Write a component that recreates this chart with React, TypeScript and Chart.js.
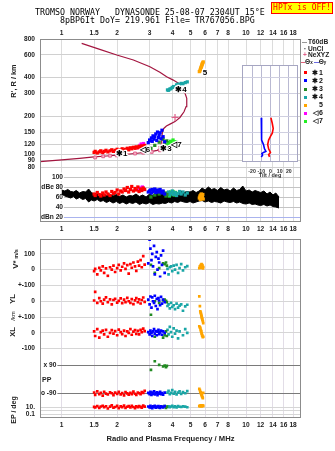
import React, { useEffect, useRef } from 'react';
import { Chart, registerables } from 'chart.js';

Chart.register(...registerables);

const FONT = "'Liberation Sans', Arial, sans-serif";
const MONO = "'DejaVu Sans Mono', 'Liberation Mono', monospace";

// ---------- axes ----------
const FREQ_MIN = 0.763;
const FREQ_MAX = 19.87;
const freqTicks = [1, 1.5, 2, 3, 4, 5, 6, 7, 8, 10, 12, 14, 16, 18];
const heightTicks = [80, 90, 100, 120, 150, 200, 300, 400, 600, 800];
const dbTicks = [20, 40, 60, 80, 100];
const dbTickLabels = ['dBn 20', '40', '60', 'dBe 80', '100'];
const vTicks = [100, 0];
const vTickLabels = ['100', '0'];
const ylTicks = [100, 0, -100];
const ylTickLabels = ['+-100', '0', '+-100'];
const xlTicks = [0, -100];
const xlTickLabels = ['0', '-100'];
const ppTicks = [90, -90];
const ppTickLabels = ['x 90', 'o -90'];
const epTicks = [10, 1, 0.1];
const epTickLabels = ['10.', '', '0.1'];
const tiltTicks = [-20, -10, 0, 10, 20];
const tiltHeightTicks = [100, 120, 150, 200, 300, 400];

// ---------- profile curve (plasma frequency MHz, height km) ----------
const curveF = [0.763, 1.0, 1.25, 1.5, 1.75, 2.0, 2.5, 3.0, 3.3, 3.45, 3.47, 3.49, 3.52, 3.58, 3.7, 3.87, 4.12, 4.38, 4.61, 4.73, 4.77, 4.77, 4.67, 4.48, 4.3, 4.03, 3.71, 3.41, 3.01, 2.45, 1.99, 1.61, 1.284];
const curveH = [88, 91, 93.5, 96, 97.5, 99, 102, 105, 108, 112, 122, 135, 150, 160, 167, 173, 181, 195, 216, 237, 259, 275, 301, 330, 361, 382, 406, 440, 486, 548, 600, 664, 740];
const pinkF = [1.52, 1.68, 1.83, 1.99, 2.21, 2.5, 2.77, 3.08, 3.41, 3.71];
const pinkH = [95, 97, 98, 98.6, 100.5, 102, 103.5, 105, 108, 111];
const neF = [4.12, 3.49];
const neH = [195, 115];

// ---------- clusters ----------
const redF = [1.5, 1.52, 1.56, 1.6, 1.63, 1.67, 1.7, 1.74, 1.78, 1.83, 1.87, 1.91, 1.95, 2.0, 2.04, 2.09, 2.13, 2.18, 2.22, 2.27, 2.31, 2.36, 2.4, 2.45, 2.5, 2.54, 2.59, 2.63, 2.68, 2.72, 2.77, 2.82];
const redH = [104, 106, 103, 105, 107, 104, 106, 108, 105, 107, 109, 106, 108, 110, 107, 109, 111, 108, 110, 112, 109, 113, 111, 114, 112, 115, 113, 116, 114, 117, 115, 118];
const redDB = [66, 63, 69, 65, 62, 68, 64, 70, 66, 63, 71, 67, 69, 74, 66, 72, 70, 76, 73, 79, 70, 75, 81, 72, 77, 74, 80, 71, 76, 73, 78, 75];
const redV = [-10, 5, -30, 12, -5, 20, -20, 8, -40, 15, 0, 25, -15, 10, 30, -5, 18, 40, 5, 28, -25, 35, 12, 45, 20, -8, 50, 25, 60, 15, 85, 32];
const redYL = [5, 60, -10, 20, 0, -15, 10, 25, -5, 12, -20, 8, 15, -8, 2, 18, -12, 10, -5, 22, 0, -10, 14, -18, 6, 20, -6, 12, -14, 8, 24, -4];
const redXL = [10, -20, 25, -30, 5, 15, -10, 20, -25, 0, 18, -5, 12, -15, 22, 5, -8, 15, -20, 10, 0, 25, -12, 8, 18, -6, 14, -10, 20, 5, 28, 12];
const redPP = [-85, -100, -78, -95, -88, -105, -80, -92, -98, -84, -90, -102, -86, -94, -80, -97, -89, -104, -83, -91, -99, -87, -95, -79, -93, -101, -85, -90, -96, -82, -88, -75];
const redEP = [12, 8, 20, 6, 15, 25, 9, 18, 4, 14, 30, 7, 11, 22, 5, 16, 10, 28, 6, 13, 19, 8, 24, 11, 5, 17, 9, 21, 12, 7, 26, 14];

const blueF = [2.95, 3.0, 3.03, 3.07, 3.1, 3.13, 3.17, 3.2, 3.24, 3.28, 3.31, 3.35, 3.38, 3.42, 3.46, 3.5, 3.55, 3.62];
const blueH = [124, 130, 128, 135, 127, 140, 132, 138, 145, 129, 150, 136, 142, 148, 133, 155, 138, 126];
const blueDB = [70, 72, 74, 68, 75, 71, 73, 76, 69, 72, 74, 70, 73, 75, 71, 68, 72, 66];
const blueV = [40, 190, 133, 60, 100, 20, 150, -30, 80, 110, 0, 70, 45, -45, 90, 30, 120, -20];
const blueYL = [10, -20, 30, -40, 25, 0, -10, 35, -30, 15, -50, 20, 5, -25, 28, -15, 10, -5];
const blueXL = [5, -10, 15, 0, -20, 10, 25, -5, 12, -15, 8, 20, -8, 3, 15, -12, 10, 0];
const bluePP = [-88, -95, -80, -100, -85, -92, -78, -97, -90, -84, -102, -87, -93, -81, -96, -89, -99, -86];
const blueEP = [15, 8, 22, 10, 5, 18, 12, 25, 7, 14, 9, 20, 11, 6, 16, 13, 8, 19];

const greenF = [3.05, 3.2, 3.38, 3.55, 3.62, 3.68, 3.72];
const greenH = [112, 118, 125, 132, 120, 115, 128];
const greenDB = [60, 64, 66, 70, 68, 62, 65];
const greenV = [30, -20, 10, 40, 35, 45, 25];
const greenYL = [-85, 0, -10, 5, 10, 2, -5];
const greenXL = [0, -25, 5, -30, -15, 10, -20];
const greenPP = [62, 118, 95, 84, 90, 80, 88];
const greenEP = [10, 15, 8, 12, 20, 6, 14];

const tealF = [3.75, 3.8, 3.86, 3.92, 3.98, 4.05, 4.12, 4.2, 4.28, 4.36, 4.45, 4.55, 4.68, 4.8];
const tealH = [320, 318, 325, 328, 335, 340, 338, 350, 355, 352, 360, 358, 365, 370];
const tealDB = [66, 70, 64, 68, 72, 65, 69, 63, 67, 71, 66, 70, 64, 68];
const tealV = [5, -30, 15, 20, -10, 25, 0, 30, -20, 10, 35, -5, 15, 22];
const tealYL = [-30, -20, -45, -10, -35, -25, -50, -15, -40, -28, -20, -60, -32, -22];
const tealXL = [20, -10, 40, 5, -25, 30, -5, 15, -35, 10, 60, -15, 25, 0];
const tealPP = [-85, -75, -95, -88, -70, -92, -80, -98, -86, -78, -94, -83, -90, -76];
const tealEP = [12, 18, 9, 15, 22, 10, 16, 8, 20, 13, 11, 17, 14, 9];

const orangeF = [5.58, 5.62, 5.65, 5.68, 5.7, 5.72, 5.74, 5.76, 5.78, 5.8, 5.83, 5.86];
const orangeH = [445, 450, 462, 470, 478, 485, 492, 500, 508, 515, 522, 530];
const orangeDB = [58, 62, 55, 64, 60, 66, 57, 63, 59, 61, 65, 56];
const orangeV = [10, 20, 15, 25, 30, 12, 35, 18, 22, 28, 8, 16];
const orangeYL = [31, -31, -64, -72, -79, -88, -95, -103, -110, -118, -126, -138];
const orangeXL = [44, 36, 31, 20, 14, 9, -2, -6, -16, -20, -28, -25];
const orangePP = [-62, -70, -80, -84, -91, -95, -101, -104, -112, -116, -121, -88];
const orangeEP = [20, 25, 18, 30, 22, 28, 19, 24, 26, 21, 27, 23];

const magF = [2.62, 2.66, 2.7, 2.74, 2.78];
const magH = [113, 118, 121, 116, 122];
const magDB = [74, 78, 76, 80, 77];

const limeF = [3.72, 3.78, 3.84, 3.9, 3.96, 4.02, 4.08, 4.14, 4.2];
const limeH = [119, 124, 121, 127, 123, 130, 122, 126, 125];
const limeDB = [65, 68, 62, 70, 66, 71, 64, 69, 67];

// ---------- amplitude trace (dB) ----------
const dbF = [1.0, 1.04, 1.08, 1.12, 1.16, 1.2, 1.25, 1.3, 1.35, 1.4, 1.45, 1.5, 1.56, 1.62, 1.68, 1.75, 1.82, 1.9, 1.98, 2.06, 2.15, 2.24, 2.33, 2.43, 2.53, 2.64, 2.75, 2.87, 3.0, 3.12, 3.25, 3.38, 3.52, 3.66, 3.8, 3.95, 4.1, 4.26, 4.43, 4.6, 4.78, 4.97, 5.16, 5.36, 5.57, 5.78, 6.0, 6.25, 6.5, 6.75, 7.0, 7.3, 7.6, 7.9, 8.2, 8.55, 8.9, 9.25, 9.6, 10.0, 10.4, 10.8, 11.2, 11.6, 12.0, 12.5, 13.0, 13.5, 14.0, 14.5, 15.1];
const dbHigh = [74, 72, 75, 71, 70, 73, 68, 71, 70, 76, 69, 66, 68, 64, 67, 63, 66, 62, 65, 61, 64, 60, 63, 62, 66, 61, 64, 60, 66, 63, 68, 70, 72, 69, 71, 68, 70, 67, 72, 69, 71, 70, 73, 69, 72, 78, 74, 80, 75, 77, 73, 79, 74, 76, 72, 78, 73, 75, 82, 72, 74, 70, 73, 71, 69, 72, 66, 70, 64, 68, 60];
const dbLow = [66, 62, 60, 58, 61, 56, 59, 55, 57, 50, 54, 52, 55, 51, 53, 49, 52, 48, 51, 47, 50, 46, 49, 47, 50, 45, 48, 46, 49, 45, 47, 46, 48, 47, 50, 48, 51, 49, 52, 50, 49, 51, 48, 50, 52, 53, 50, 52, 49, 51, 50, 48, 52, 50, 49, 51, 48, 50, 47, 46, 48, 45, 46, 44, 43, 45, 42, 44, 41, 40, 38];

// ---------- tilt inset ----------
const tiltBlueT = [-10, -10, -9.3, -7.6, -6.5, -5, -7.6, -9.3, -8.6, -10];
const tiltBlueH = [194, 142, 130, 120, 111, 106, 104, 102, 99, 96];
const tiltRedT = [0.5, 2, 3, 2, 0, -2, -3, -2, 0, -2, -1];
const tiltRedH = [194, 175, 160, 147, 139, 130, 120, 111, 104, 100, 96];

// ---------- cluster labels / legend ----------
const clusterNames = ['✱1', '✱2', '✱3', '✱4', '5', '◁6', '◁7'];
const clusterColors = ['#ff0000', '#0000ff', '#228b22', '#1aa6a6', '#ffa500', '#ff00ff', '#22ee22'];
const labelText = ['✱1', '◁6', '✱3', '◁7', '✱4', '5'];
const labelF = [2.12, 2.83, 3.68, 4.19, 4.44, 5.99];
const labelH = [101, 110, 111.6, 119, 320, 438];

// ---------- helpers ----------
const tickFont = { family: FONT, size: 6.6, weight: 'bold' as const };
const pts = (xs: number[], ys: number[]) => xs.map((x, i) => ({ x, y: ys[i] }));
const setTicks = (vals: number[]) => (axis: any) => { axis.ticks = vals.map((v) => ({ value: v })); };
const labeler = (vals: number[], labels: string[]) => (v: any) => { const i = vals.indexOf(Number(v)); return i < 0 ? '' : labels[i]; };
const fixW = (w: number) => (axis: any) => { axis.width = w; };
const fixH = (h: number) => (axis: any) => { axis.height = h; };
const innerTicks = (labelFn: any) => ({
  font: tickFont, mirror: true, crossAlign: 'far', padding: 1, showLabelBackdrop: true, backdropColor: '#fff',
  backdropPadding: { left: 24, right: 1, top: 0.5, bottom: 0.5 }, autoSkip: false, color: '#222', callback: labelFn,
});

const framePlugin = {
  id: 'frame',
  beforeDraw(chart: any, _a: any, opts: any) {
    if (!opts.fill) return;
    const { left, top, right, bottom } = chart.chartArea;
    const ctx = chart.ctx;
    ctx.save();
    ctx.fillStyle = opts.fill;
    ctx.fillRect(left, top, right - left, bottom - top);
    ctx.restore();
  },
  afterDraw(chart: any, _a: any, opts: any) {
    const { left, top, right, bottom } = chart.chartArea;
    const ctx = chart.ctx;
    ctx.save();
    ctx.strokeStyle = opts.color || '#8c8c8c';
    ctx.lineWidth = 1;
    ctx.strokeRect(Math.round(left) + 0.5, Math.round(top) + 0.5, Math.round(right - left) - 1, Math.round(bottom - top) - 1);
    ctx.restore();
  },
};

const clusterLabelPlugin = {
  id: 'clusterLabels',
  afterDatasetsDraw(chart: any) {
    const xs = chart.scales.x;
    const ys = chart.scales.yH;
    const ctx = chart.ctx;
    ctx.save();
    ctx.font = `bold 8px ${FONT}`;
    ctx.textAlign = 'center';
    ctx.textBaseline = 'middle';
    ctx.lineJoin = 'round';
    labelText.forEach((t, i) => {
      const px = xs.getPixelForValue(labelF[i]);
      const py = ys.getPixelForValue(labelH[i]);
      ctx.lineWidth = 2.5;
      ctx.strokeStyle = '#fff';
      ctx.strokeText(t, px, py);
      ctx.fillStyle = '#000';
      ctx.fillText(t, px, py);
    });
    ctx.restore();
  },
};

const dots = (f: number[], v: number[], color: string, axis: string, r: number) => ({
  data: pts(f, v),
  yAxisID: axis,
  showLine: false,
  pointStyle: 'rect',
  pointRadius: r,
  borderWidth: 0,
  backgroundColor: color,
  borderColor: color,
  order: 1,
});

const xAxisCommon = (position: string, padding: number, height: number, grid: any) => ({
  type: 'logarithmic',
  position,
  min: FREQ_MIN,
  max: FREQ_MAX,
  afterBuildTicks: setTicks(freqTicks),
  afterFit: fixH(height),
  ticks: { font: tickFont, padding, autoSkip: false, maxRotation: 0, color: '#222', callback: (v: any) => String(v) },
  grid,
  border: { display: false },
});

function topConfig(): any {
  const ionClusters = [
    [redF, redH, redDB, clusterColors[0]],
    [blueF, blueH, blueDB, clusterColors[1]],
    [greenF, greenH, greenDB, clusterColors[2]],
    [tealF, tealH, tealDB, clusterColors[3]],
    [orangeF, orangeH, orangeDB, clusterColors[4]],
    [magF, magH, magDB, clusterColors[5]],
    [limeF, limeH, limeDB, clusterColors[6]],
  ] as [number[], number[], number[], string][];
  const datasets: any[] = [
    { data: pts(curveF, curveH), yAxisID: 'yH', showLine: true, borderColor: '#a3153f', borderWidth: 1.2, pointRadius: 0, order: 5 },
    { data: pts(pinkF, pinkH), yAxisID: 'yH', showLine: false, pointStyle: 'rect', pointRadius: 2, borderColor: '#e0608a', backgroundColor: '#f6b8cb', borderWidth: 1, order: 4 },
    { data: pts(neF, neH), yAxisID: 'yH', showLine: false, pointStyle: 'cross', pointRadius: 3.5, borderColor: '#e0608a', borderWidth: 1.2, order: 4 },
  ];
  ionClusters.forEach(([f, h, db, c]) => {
    datasets.push(dots(f, h, c, 'yH', 2.3));
    datasets.push(dots(f, db, c, 'yDB', 2.3));
  });
  datasets.push({ type: 'line', data: pts(dbF, dbHigh), yAxisID: 'yDB', borderColor: '#000', borderWidth: 1, pointRadius: 0, fill: '+1', backgroundColor: '#000', order: 10 });
  datasets.push({ type: 'line', data: pts(dbF, dbLow), yAxisID: 'yDB', borderColor: '#000', borderWidth: 1, pointRadius: 0, fill: false, order: 10 });

  return {
    type: 'scatter',
    data: { datasets },
    plugins: [framePlugin, clusterLabelPlugin],
    options: {
      animation: false,
      responsive: false,
      events: [],
      layout: { padding: { left: 0, right: 34, top: 25, bottom: 4 } },
      plugins: { legend: { display: false }, tooltip: { enabled: false }, frame: { color: '#8c8c8c' } },
      scales: {
        x: xAxisCommon('bottom', 3, 14, { color: '#dcdcdc', drawTicks: false }),
        xTop: xAxisCommon('top', 2, 14, { display: false, drawTicks: false }),
        // stacked axes: the first one listed is placed lowest
        yDB: {
          type: 'linear', position: 'left', stack: 'ion', stackWeight: 52, min: 10, max: 114,
          afterBuildTicks: setTicks(dbTicks), afterFit: fixW(40),
          ticks: innerTicks(labeler(dbTicks, dbTickLabels)),
          grid: { color: (c: any) => (c.tick && c.tick.value === 20 ? '#a9b3ee' : '#c4c4c4'), drawTicks: false }, border: { display: false },
        },
        yH: {
          type: 'logarithmic', position: 'left', stack: 'ion', stackWeight: 131, min: 75.8, max: 800,
          afterBuildTicks: setTicks(heightTicks), afterFit: fixW(40),
          ticks: { font: tickFont, padding: 5, autoSkip: false, color: '#222', callback: (v: any) => String(v) },
          grid: { color: '#d0d0d0', drawTicks: false }, border: { display: false },
        },
      },
    },
  };
}

function lowConfig(): any {
  const clusters = [
    [redF, redV, redYL, redXL, redPP, redEP, clusterColors[0]],
    [blueF, blueV, blueYL, blueXL, bluePP, blueEP, clusterColors[1]],
    [greenF, greenV, greenYL, greenXL, greenPP, greenEP, clusterColors[2]],
    [tealF, tealV, tealYL, tealXL, tealPP, tealEP, clusterColors[3]],
    [orangeF, orangeV, orangeYL, orangeXL, orangePP, orangeEP, clusterColors[4]],
  ] as any[];
  const datasets: any[] = [];
  clusters.forEach(([f, v, yl, xl, pp, ep, c]) => {
    datasets.push(dots(f, v, c, 'yV', 1.9));
    datasets.push(dots(f, yl, c, 'yYL', 1.9));
    datasets.push(dots(f, xl, c, 'yXL', 1.9));
    datasets.push(dots(f, pp, c, 'yPP', 1.9));
    datasets.push(dots(f, ep, c, 'yEP', 1.9));
  });
  const yCommon = (stackWeight: number, vals: number[], labels: string[]) => ({
    type: 'linear', position: 'left', stack: 'low', stackWeight,
    afterBuildTicks: setTicks(vals), afterFit: fixW(40),
    ticks: { font: tickFont, padding: 5, autoSkip: false, color: '#222', callback: labeler(vals, labels) },
    grid: { color: '#d6d6d6', drawTicks: false }, border: { display: false },
  });
  return {
    type: 'scatter',
    data: { datasets },
    plugins: [framePlugin],
    options: {
      animation: false,
      responsive: false,
      events: [],
      layout: { padding: { left: 0, right: 34, top: 7, bottom: 0 } },
      plugins: { legend: { display: false }, tooltip: { enabled: false }, frame: { color: '#8c8c8c' } },
      scales: {
        x: {
          ...xAxisCommon('bottom', 3, 33, { color: '#e2dde7', drawTicks: false }),
          title: { display: true, text: 'Radio and Plasma Frequency / MHz', color: '#222', font: { family: FONT, size: 7.6, weight: 'bold' }, padding: { top: 0, bottom: 7.5 } },
        },
        // stacked axes: the first one listed is placed lowest
        yEP: { ...yCommon(18, epTicks, epTickLabels), type: 'logarithmic', min: 0.0072, max: 1000 },
        yPP: {
          ...yCommon(44, ppTicks, ppTickLabels), min: -135, max: 147.9,
          ticks: innerTicks(labeler(ppTicks, ppTickLabels)),
          grid: { color: '#7a7a7a', drawTicks: false },
        },
        yXL: { ...yCommon(32, xlTicks, xlTickLabels), min: -154.8, max: 51.6 },
        yYL: { ...yCommon(48, ylTicks, ylTickLabels), min: -150, max: 150 },
        yV: { ...yCommon(39, vTicks, vTickLabels), min: -50, max: 193.75 },
      },
    },
  };
}

function insetConfig(): any {
  return {
    type: 'scatter',
    data: {
      datasets: [
        { data: pts(tiltRedT, tiltRedH), showLine: true, borderColor: '#ff0000', borderWidth: 1.6, pointRadius: 0 },
        { data: pts(tiltBlueT, tiltBlueH), showLine: true, borderColor: '#0000ff', borderWidth: 1.6, pointRadius: 0 },
      ],
    },
    plugins: [framePlugin],
    options: {
      animation: false,
      responsive: false,
      events: [],
      layout: { padding: { left: 5, right: 5, top: 5, bottom: 0 } },
      plugins: { legend: { display: false }, tooltip: { enabled: false }, frame: { color: '#a6a6c2', fill: '#ffffff' } },
      scales: {
        x: {
          type: 'linear', min: -31, max: 30,
          afterBuildTicks: setTicks(tiltTicks), afterFit: fixH(18),
          ticks: { font: { family: FONT, size: 5.2, weight: 'bold' }, padding: 6, autoSkip: false, maxRotation: 0, color: '#333', callback: (v: any) => String(v) },
          grid: { color: '#b9b9d2', drawTicks: false }, border: { display: false },
          title: { display: true, text: 'Tilt / deg', color: '#333', font: { family: FONT, size: 5.5, weight: 'bold' }, padding: { top: 0, bottom: 1 } },
        },
        y: {
          type: 'logarithmic', min: 87.6, max: 501,
          afterBuildTicks: setTicks(tiltHeightTicks), afterFit: fixW(0),
          ticks: { display: false },
          grid: { color: '#cfcfe0', drawTicks: false }, border: { display: false },
        },
      },
    },
  };
}

const abs = (s: React.CSSProperties): React.CSSProperties => ({ position: 'absolute', ...s });
const rotLabel = (cx: number, cy: number): React.CSSProperties => ({
  position: 'absolute', left: cx, top: cy, transform: 'translate(-50%, -50%) rotate(-90deg)', whiteSpace: 'nowrap',
  fontFamily: FONT, fontWeight: 'bold', color: '#222', lineHeight: 1,
});

export default function App() {
  const topRef = useRef<HTMLCanvasElement>(null);
  const lowRef = useRef<HTMLCanvasElement>(null);
  const insetRef = useRef<HTMLCanvasElement>(null);

  useEffect(() => {
    Chart.defaults.font.family = FONT;
    const charts = [
      new Chart(topRef.current as HTMLCanvasElement, topConfig()),
      new Chart(lowRef.current as HTMLCanvasElement, lowConfig()),
      new Chart(insetRef.current as HTMLCanvasElement, insetConfig()),
    ];
    return () => charts.forEach((c) => c.destroy());
  }, []);

  const legendTop = [72, 80, 88.5, 96.5, 104.5, 112.5, 120.5];

  return (
    <div style={abs({ left: 0, top: 0, width: 335, height: 451, background: '#fff', overflow: 'hidden' })}>
      <canvas ref={topRef} width={335} height={240} style={abs({ left: 0, top: 0, width: 335, height: 240 })} />
      <canvas ref={lowRef} width={335} height={221} style={abs({ left: 0, top: 230, width: 335, height: 221 })} />
      <canvas ref={insetRef} width={66} height={120} style={abs({ left: 237, top: 60, width: 66, height: 120 })} />

      <div style={abs({ left: 35, top: 7, fontFamily: MONO, fontSize: 8.3, lineHeight: '10px', color: '#000', whiteSpace: 'pre' })}>
        TROMSO NORWAY   DYNASONDE 25-08-07 2304UT 15°E
      </div>
      <div style={abs({ left: 60, top: 15, fontFamily: MONO, fontSize: 8.3, lineHeight: '10px', color: '#000', whiteSpace: 'pre' })}>
        8pBP6It DoY= 219.961 File= TR767056.BPG
      </div>
      <div style={abs({ left: 271, top: 2, width: 60, height: 10, border: '1px solid #ff0000', background: '#ffff00', color: '#ff0000', fontFamily: MONO, fontSize: 8, lineHeight: '10px', textAlign: 'center', whiteSpace: 'pre' })}>
        HPTx is OFF!
      </div>

      <div style={{ ...rotLabel(13.5, 81), fontSize: 7.4 }}>R', R / km</div>
      <div style={{ ...rotLabel(12.5, 259) }}>
        <span style={{ fontSize: 8 }}>V*</span>
        <span style={{ fontSize: 5.5 }}> m/s</span>
      </div>
      <div style={{ ...rotLabel(12.5, 299), fontSize: 7.6 }}>YL</div>
      <div style={{ ...rotLabel(12.5, 316), fontSize: 6, fontWeight: 'normal' }}>/km</div>
      <div style={{ ...rotLabel(12.5, 332), fontSize: 7.6 }}>XL</div>
      <div style={{ ...rotLabel(12.5, 410), fontSize: 7 }}>EP / deg</div>
      <div style={abs({ left: 42, top: 376, fontFamily: FONT, fontWeight: 'bold', fontSize: 7, color: '#222', lineHeight: 1 })}>PP</div>

      <div style={abs({ left: 302, top: 39, fontFamily: FONT, fontWeight: 'bold', fontSize: 6.6, color: '#222', lineHeight: 1, whiteSpace: 'nowrap' })}>
        <span style={{ display: 'inline-block', width: 5, height: 1, background: '#999', verticalAlign: 'middle', marginRight: 1 }} />T60dB
      </div>
      <div style={abs({ left: 302, top: 45.5, fontFamily: FONT, fontWeight: 'bold', fontSize: 6.6, color: '#222', lineHeight: 1, whiteSpace: 'nowrap' })}>
        <span style={{ display: 'inline-block', width: 6, textAlign: 'center' }}>·</span>UnCl
      </div>
      <div style={abs({ left: 302, top: 52, fontFamily: FONT, fontWeight: 'bold', fontSize: 6.6, color: '#222', lineHeight: 1, whiteSpace: 'nowrap' })}>
        <span style={{ display: 'inline-block', width: 6, textAlign: 'center', color: '#e0608a' }}>+</span>NeXYZ
      </div>
      <div style={abs({ left: 301, top: 59, fontFamily: FONT, fontWeight: 'bold', fontSize: 6.6, color: '#222', lineHeight: 1, whiteSpace: 'nowrap' })}>
        <span style={{ display: 'inline-block', width: 4, height: 1, background: '#e0607a', verticalAlign: 'middle' }} />
        Θ<span style={{ fontSize: 4.5 }}>x</span>
        <span style={{ display: 'inline-block', width: 5, height: 1, background: '#6a6ae0', verticalAlign: 'middle', marginLeft: 1 }} />
        Θ<span style={{ fontSize: 4.5 }}>y</span>
      </div>
      {clusterNames.map((name, i) => (
        <div key={name} style={abs({ left: 304, top: legendTop[i] - 3.5, height: 7, fontFamily: FONT, fontWeight: 'bold', fontSize: 7, color: '#111', lineHeight: '7px', whiteSpace: 'nowrap' })}>
          <span style={{ display: 'inline-block', width: 3, height: 3, background: clusterColors[i], verticalAlign: 'middle', marginRight: 4 }} />
          <span style={{ display: 'inline-block', width: 8, textAlign: 'center' }}>{name.length > 1 ? name[0] : ''}</span>
          <span>{name.length > 1 ? name.slice(1) : name}</span>
        </div>
      ))}
    </div>
  );
}
